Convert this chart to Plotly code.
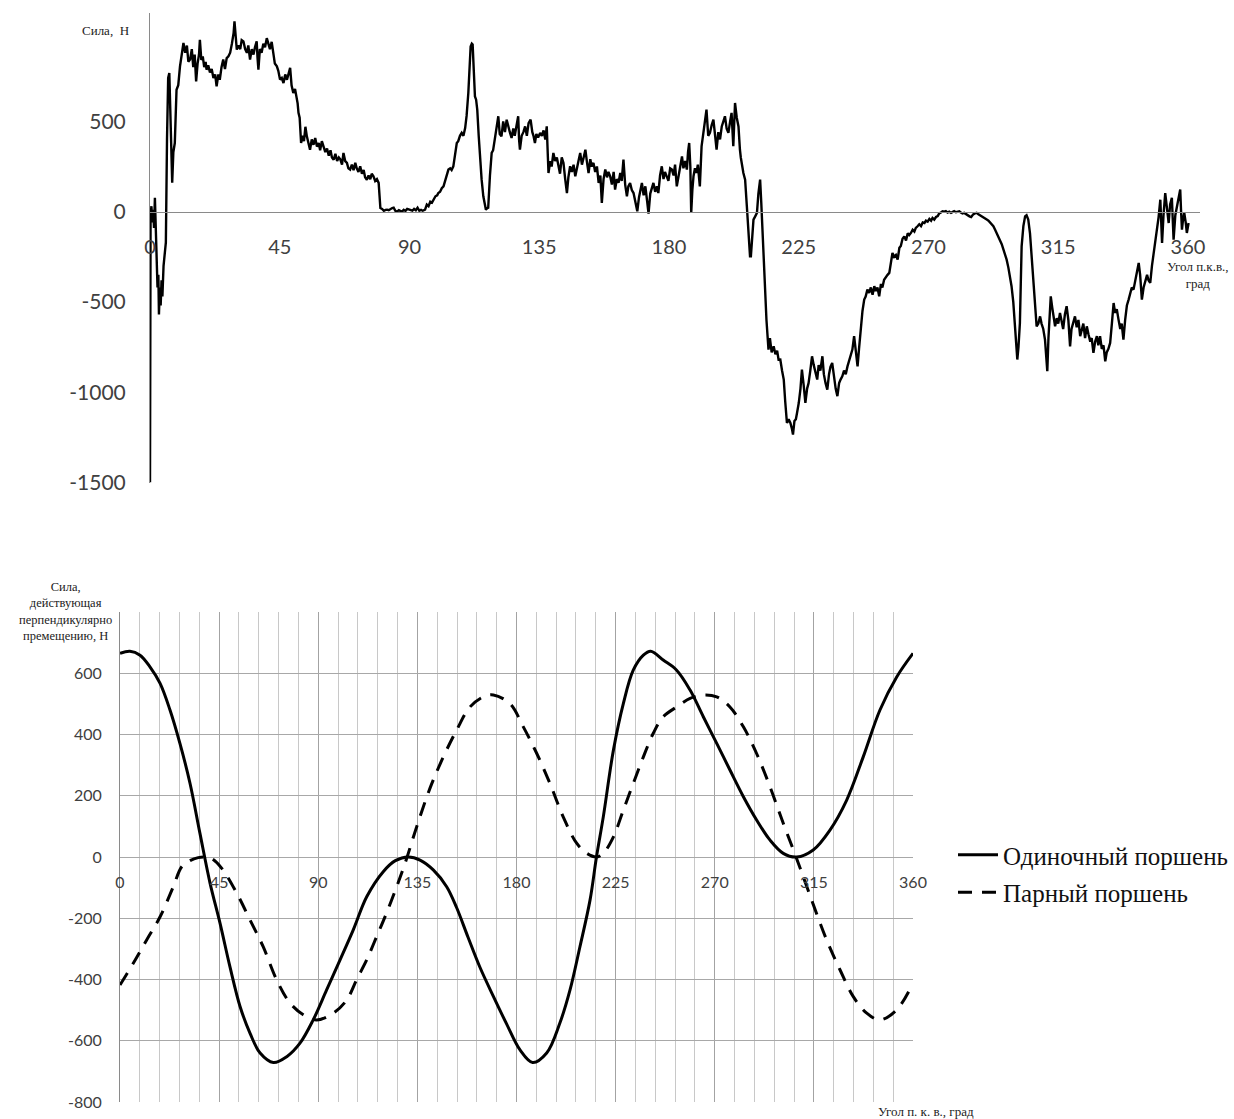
import plotly.graph_objects as go

# ---------------- data: top chart (measured force) ----------------
TOP_ANGLE = [
    0, 0.2, 0.5, 0.8, 1.1, 1.4, 1.7, 2.0, 2.3, 2.6, 2.9, 3.1, 3.4, 3.7, 4.0, 4.3, 4.7, 5.2, 5.5, 5.9,
    6.3, 6.7, 7.0, 7.4, 7.7, 8.1, 8.6, 9.2, 9.8, 10.4, 11.0, 11.6, 12.2, 12.8, 13.3, 13.9, 14.5, 15.0,
    15.5, 16.0, 16.5, 17.0, 17.3, 17.8, 18.3, 18.8, 19.3, 19.6, 20.2, 20.8, 21.4, 22.0, 22.6, 23.1,
    23.7, 24.2, 24.8, 25.4, 26.0, 26.6, 27.2, 27.8, 28.4, 29.0, 29.3, 29.7, 30.1, 30.7, 31.3, 31.8,
    32.4, 33.0, 33.6, 34.1, 34.7, 35.3, 35.9, 36.4, 37.0, 37.3, 37.6, 38.1, 38.7, 39.3, 39.9, 40.5,
    41.0, 41.6, 42.2, 42.8, 43.3, 44.0, 44.5, 45.1, 45.7, 46.3, 46.9, 47.5, 48.0, 48.6, 49.1, 49.7,
    50.3, 50.9, 51.2, 51.5, 51.9, 52.4, 52.9, 53.4, 53.9, 54.4, 55.0, 55.5, 56.1, 56.7, 57.3, 57.9,
    58.5, 59.0, 59.6, 60.2, 60.8, 61.4, 62.0, 62.6, 63.1, 63.7, 64.3, 64.9, 65.5, 66.0, 66.6, 67.1,
    67.7, 68.3, 68.8, 69.4, 70.0, 70.6, 71.2, 71.7, 72.3, 72.9, 73.5, 74.1, 74.6, 75.2, 75.8, 76.4,
    76.9, 77.5, 78.1, 78.7, 79.3, 79.6, 79.9, 80.5, 81.1, 81.7, 82.2, 82.8, 83.4, 84.0, 84.5, 85.1,
    85.7, 86.3, 86.8, 87.4, 88.0, 88.6, 89.2, 90.3, 91.0, 91.6, 92.2, 92.8, 93.4, 94.0, 94.6, 95.4,
    96.0, 96.6, 97.2, 97.8, 98.3, 99.0, 99.6, 100.0, 100.6, 101.2, 101.8, 102.4, 103.0, 103.5, 104.1,
    104.6, 105.2, 105.8, 106.4, 106.9, 107.5, 108.1, 108.7, 109.3, 109.8, 110.4, 110.8, 111.2, 111.6,
    111.9, 112.3, 112.7, 113.1, 113.5, 114.0, 114.5, 115.0, 115.6, 116.1, 116.5, 117.0, 117.3, 117.9,
    118.5, 119.0, 119.6, 120.2, 120.8, 121.3, 121.9, 122.5, 123.1, 123.7, 124.2, 124.8, 125.4, 126.0,
    126.5, 127.1, 127.7, 128.0, 128.3, 128.9, 129.5, 130.1, 130.7, 131.3, 132.0, 132.6, 133.0, 133.5,
    134.0, 134.6, 135.3, 135.9, 136.5, 137.1, 137.6, 138.0, 138.2, 138.8, 139.3, 139.9, 140.5, 141.1,
    141.7, 142.2, 142.8, 143.4, 144.0, 144.6, 145.1, 145.7, 146.3, 146.9, 147.5, 148.1, 148.6, 149.2,
    149.8, 150.4, 151.0, 151.5, 152.1, 152.7, 153.2, 153.8, 154.4, 155.0, 155.6, 156.2, 156.7, 157.3,
    157.9, 158.5, 159.0, 159.6, 160.2, 160.8, 161.3, 161.9, 162.5, 163.1, 163.6, 164.2, 164.8, 165.4,
    165.9, 166.5, 167.1, 167.7, 168.3, 169.0, 169.6, 170.1, 170.6, 171.2, 171.8, 172.4, 172.9, 173.5,
    174.0, 174.6, 175.2, 175.8, 176.3, 176.9, 177.5, 178.1, 178.6, 179.2, 179.8, 180.4, 181.0, 181.6,
    182.1, 182.7, 183.3, 183.9, 184.5, 185.0, 185.6, 186.2, 186.6, 187.0, 187.4, 187.7, 188.1, 188.5,
    189.0, 189.5, 190.0, 190.7, 191.3, 191.8, 192.4, 193.0, 193.6, 194.2, 194.8, 195.4, 196.0, 196.5,
    197.1, 197.7, 198.3, 198.9, 199.4, 200.0, 200.6, 201.2, 201.7, 202.3, 202.6, 202.9, 203.5, 204.1,
    204.6, 204.9, 205.8, 206.4, 207.0, 207.6, 208.1, 208.4, 208.9, 209.3, 209.9, 210.5, 211.0, 211.6,
    212.0, 212.5, 212.8, 213.3, 213.8, 214.5, 215.0, 215.6, 216.3, 216.9, 217.5, 218.0, 218.6, 219.2,
    219.8, 220.3, 220.9, 221.5, 222.1, 222.6, 223.0, 223.5, 224.0, 224.4, 225.0, 225.6, 226.1, 226.7,
    227.3, 227.9, 228.4, 229.0, 229.6, 230.2, 230.8, 231.4, 231.9, 232.5, 233.2, 233.7, 234.3, 234.9,
    235.5, 236.0, 236.6, 237.2, 237.8, 238.4, 239.0, 239.5, 240.1, 240.7, 241.3, 241.9, 242.5, 243.0,
    243.6, 244.2, 244.8, 245.4, 245.9, 246.5, 247.1, 247.7, 248.2, 248.8, 249.4, 250.0, 250.6, 251.2,
    251.7, 252.3, 252.9, 253.5, 254.0, 254.6, 255.2, 255.8, 256.4, 256.9, 257.5, 258.1, 258.7, 259.3,
    259.9, 260.4, 261.0, 261.6, 262.2, 262.8, 263.3, 263.9, 264.5, 265.1, 265.6, 266.2, 266.8, 267.4,
    268.0, 268.6, 269.1, 269.7, 270.3, 270.9, 271.4, 272.0, 272.6, 273.2, 273.7, 274.3, 274.9, 275.5,
    276.0, 276.6, 277.2, 277.8, 278.3, 278.9, 279.5, 280.1, 280.7, 281.2, 281.8, 282.4, 283.0, 283.5,
    284.2, 284.8, 285.5, 286.1, 286.7, 287.3, 287.9, 288.4, 289.0, 289.6, 290.2, 290.8, 291.3, 291.9,
    292.5, 293.1, 293.7, 294.3, 294.8, 295.4, 296.0, 296.6, 297.1, 297.7, 298.3, 298.8, 299.4, 300.0,
    300.4, 300.8, 301.2, 301.7, 302.0, 302.3, 302.9, 303.5, 304.0, 304.6, 305.2, 305.8, 306.4, 307.0,
    307.5, 308.1, 308.7, 309.2, 309.8, 310.4, 310.8, 311.2, 311.6, 312.0, 312.4, 312.9, 313.4, 313.9,
    314.5, 315.0, 315.6, 316.2, 316.7, 317.3, 317.9, 318.5, 319.1, 319.6, 320.2, 320.8, 321.4, 322.0,
    322.6, 323.1, 323.7, 324.3, 324.9, 325.5, 326.1, 326.6, 327.2, 327.8, 328.4, 328.9, 329.5, 330.1,
    330.7, 331.3, 331.8, 332.4, 333.0, 333.6, 334.2, 334.7, 335.3, 335.9, 336.5, 337.0, 337.6, 338.2,
    338.8, 339.4, 339.9, 340.5, 341.1, 341.7, 342.3, 342.9, 343.4, 344.0, 344.6, 345.2, 345.8, 346.3,
    346.9, 347.5, 348.1, 348.7, 349.2, 349.8, 350.4, 350.7, 351.0, 351.5, 352.1, 352.7, 353.3, 353.8,
    354.4, 354.7, 355.0, 355.6, 356.2, 356.8, 357.3, 357.6, 357.9, 358.3, 358.7, 359.2, 359.6, 360.2,
]
TOP_FORCE = [
    -1500, -20, 30, -60, 10, -90, 77, -150, -300, -420, -350, -570, -420, -520, -380, -470, -300, -190, -170, 400,
    740, 768, 560, 300, 160, 330, 380, 675, 700, 805, 860, 934, 880, 920, 830, 842, 900, 800,
    870, 721, 820, 870, 952, 840, 860, 800, 830, 786, 810, 770, 790, 740, 760, 694,
    760, 730, 800, 842, 790, 850, 860, 880, 930, 990, 1054, 960, 897, 920, 900, 950,
    943, 900, 880, 920, 842, 900, 870, 910, 943, 850, 786, 900, 880, 930, 910, 961,
    930, 900, 940, 879, 820, 805, 780, 731, 740, 712, 760, 730, 760, 796, 700, 657,
    680, 638, 600, 547, 520, 380, 420, 390, 470, 417, 380, 343, 400, 370, 408, 360,
    380, 340, 390, 362, 330, 350, 310, 340, 300, 288, 320, 280, 300, 290, 260, 325,
    280, 270, 240, 233, 260, 230, 270, 240, 220, 251, 210, 230, 190, 177, 200, 180,
    210, 196, 170, 180, 159, 90, 20, 15, 5, 10, 11, 8, 15, 20, 22, 5,
    0, 8, 4, 0, 10, 4, 15, 11, 5, 15, 8, 22, 5, 10, 5, 11,
    39, 30, 55, 50, 66, 85, 90, 103, 110, 130, 140, 170, 210, 233, 240,
    230, 251, 320, 380, 390, 420, 436, 420, 463, 530, 657, 820, 915, 930,
    925, 780, 638, 620, 565, 420, 288, 180, 85, 30, 11, 20, 22, 200,
    325, 340, 399, 470, 528, 430, 417, 500, 440, 509, 470, 440, 408, 460,
    420, 480, 528, 400, 343, 420, 440, 472, 420, 490, 509, 440, 420, 380,
    430, 410, 436, 420, 450, 400, 472, 300, 214, 280, 250, 325, 280, 300,
    251, 210, 300, 270, 180, 103, 190, 251, 220, 260, 196, 250, 280, 325,
    260, 300, 343, 280, 214, 290, 250, 270, 220, 250, 159, 200, 48, 180,
    233, 190, 220, 196, 150, 220, 122, 180, 160, 214, 170, 288, 150, 85,
    140, 159, 120, 103, 60, 2, 80, 120, 159, 90, 140, 60, -11, 100,
    130, 159, 110, 140, 103, 200, 251, 180, 220, 196, 170, 240, 233, 200,
    260, 140, 210, 250, 306, 240, 280, 233, 330, 380, 250, -7, 120, 196,
    240, 214, 260, 140, 362, 420, 480, 565, 420, 436, 480, 509, 420, 343,
    440, 400, 472, 500, 528, 460, 436, 500, 547, 362, 480, 602, 520, 472,
    343, 300, 214, 177, 30, -137, -247, -247, -150, -44, -26, -7, 100, 177,
    50, -155, -192, -469, -600, -764, -700, -780, -746, -790, -770, -820, -819, -880,
    -930, -1050, -1170, -1150, -1170, -1200, -1235, -1160, -1150, -1115, -1060, -980, -875, -960,
    -1059, -980, -950, -880, -801, -850, -900, -930, -850, -880, -801, -900, -950, -986,
    -900, -860, -838, -920, -980, -1022, -950, -930, -912, -880, -900, -857, -820, -790,
    -764, -690, -780, -857, -760, -653, -550, -487, -470, -432, -450, -420, -460, -413,
    -440, -420, -469, -400, -420, -377, -360, -350, -339, -290, -229, -250, -240, -266,
    -200, -190, -150, -137, -160, -120, -130, -118, -100, -110, -90, -81, -70, -80,
    -60, -63, -50, -55, -40, -50, -35, -44, -30, -25, -10, -5, 2, 0,
    3, -5, 0, -7, 0, 3, -3, 0, 2, -5, -10, -7, -15, -20,
    -26, -30, -15, -10, -7, -15, -20, -25, -30, -35, -44, -50, -60, -70,
    -81, -100, -120, -140, -155, -180, -210, -240, -266, -310, -360, -413, -500, -616,
    -720, -819, -750, -616, -400, -192, -80, -26, -20, -44, -120, -266, -420, -560,
    -635, -620, -580, -620, -650, -709, -800, -884, -700, -560, -469, -530, -600, -635,
    -590, -620, -561, -600, -650, -570, -524, -600, -746, -650, -620, -580, -640, -600,
    -690, -660, -620, -700, -635, -680, -720, -700, -782, -720, -690, -740, -690, -760,
    -740, -829, -780, -760, -727, -620, -506, -560, -540, -598, -650, -620, -709, -600,
    -520, -487, -460, -420, -432, -380, -340, -284, -350, -487, -420, -377, -350, -380,
    -395, -300, -229, -180, -100, -30, 66, -50, -173, -20, 103, 20, -63, 40,
    76, -40, -155, -20, 29, 60, 122, 0, -100, -40, -7, -60, -118, -63,
]

# ---------------- data: bottom chart (calculated forces) ----------------
SINGLE_ANGLE = [0, 4.5, 9.1, 13.6, 18.2, 22.7, 27.2, 31.8, 36.3, 40.9, 45.4, 49.9, 54.5, 59.0, 63.6,
                69.6, 75.7, 81.7, 87.7, 93.8, 99.9, 105.9, 112.0, 119.5, 125.0, 130.9, 136.2, 142.2,
                148.3, 152.8, 158.0, 163.4, 169.5, 175.5, 181.6, 187.3, 193.7, 199.7, 204.3, 208.8,
                213.4, 216.3, 219.4, 224.0, 228.5, 233.0, 237.6, 240.9, 246.6, 252.7, 258.8, 264.8,
                270.9, 276.9, 283.0, 289.0, 295.1, 301.1, 307.2, 314.7, 322.3, 329.9, 337.4, 345.0,
                352.6, 360.0]
SINGLE_FORCE = [665, 672, 659, 621, 567, 480, 371, 240, 77, -86, -216, -358, -488, -575, -640,
                -671, -652, -608, -532, -434, -336, -238, -130, -48, -12, 0, -10, -42,
                -97, -165, -262, -360, -455, -545, -630, -671, -640, -542, -434, -293,
                -140, 0, 131, 349, 501, 610, 659, 672, 643, 610, 545, 458,
                371, 284, 197, 121, 55, 12, 0, 23, 88, 186, 327, 480,
                588, 665]

PAIR_ANGLE = [0, 6.1, 12.1, 18.2, 24.2, 28.0, 31.8, 35.5, 38.6, 41.6, 46.2, 53.0, 59.0, 65.0,
              71.1, 77.2, 83.2, 89.3, 96.8, 102.9, 107.4, 112.0, 116.5, 121.0, 125.6, 129.4,
              134.7, 140.7, 146.8, 152.8, 158.9, 164.9, 169.5, 177.0, 183.1, 189.2, 195.2, 201.2,
              207.3, 211.9, 216.4, 219.4, 224.0, 228.5, 233.0, 237.6, 242.1, 246.6, 252.7, 258.8,
              264.8, 270.9, 276.9, 283.0, 289.0, 295.1, 301.1, 305.7, 308.7, 313.2, 320.8, 326.9,
              332.9, 339.0, 345.0, 352.6, 360.0]
PAIR_FORCE = [-418, -346, -271, -195, -97, -32, -12, -2, 0, -5, -37, -118, -205, -293,
              -401, -477, -515, -532, -510, -467, -401, -336, -260, -183, -97, -21,
              99, 224, 327, 414, 490, 523, 529, 501, 425, 338, 240, 131,
              45, 12, 0, 12, 66, 153, 240, 327, 404, 458, 490, 518,
              529, 523, 490, 425, 338, 229, 110, 23, -35, -125, -271, -369,
              -456, -510, -532, -499, -412]

TOP_XTICKS = [0, 45, 90, 135, 180, 225, 270, 315, 360]
TOP_YTICKS = [-1500, -1000, -500, 0, 500]
TOP_YTEXT = ["-1500", "-1000", "-500", "0", "500"]
BOT_XTICKS = [0, 45, 90, 135, 180, 225, 270, 315, 360]
BOT_YTICKS = [-800, -600, -400, -200, 0, 200, 400, 600, 800]
BOT_YTEXT = ["-800", "-600", "-400", "-200", "0", "200", "400", "600", ""]

W, H = 1234, 1119
def px(x):
    return x / W
def py(y):
    return 1 - y / H

TICK_FONT = "Lato, 'Open Sans', sans-serif"
SERIF = "'Liberation Serif', 'DejaVu Serif', serif"
TICK_COLOR = "#404040"

fig = go.Figure()

fig.add_trace(go.Scatter(
    x=TOP_ANGLE, y=TOP_FORCE, mode="lines", xaxis="x", yaxis="y",
    line=dict(color="black", width=2.4), showlegend=False, hoverinfo="skip"))

fig.add_trace(go.Scatter(
    x=SINGLE_ANGLE, y=SINGLE_FORCE, mode="lines", xaxis="x2", yaxis="y2",
    name="Одиночный поршень", legendgroup="a",
    line=dict(color="black", width=3, shape="spline", smoothing=1.0)))

fig.add_trace(go.Scatter(
    x=PAIR_ANGLE, y=PAIR_FORCE, mode="lines", xaxis="x2", yaxis="y2",
    name="Парный поршень", legendgroup="b",
    line=dict(color="black", width=3, dash="14px,10px", shape="spline", smoothing=1.0)))


def note(text, x, y, size):
    return dict(text=text, x=px(x), y=py(y), xref="paper", yref="paper",
                xanchor="center", yanchor="middle", align="center", showarrow=False,
                font=dict(family=SERIF, size=size, color="#222222"))


fig.update_layout(
    template="none",
    width=W, height=H,
    margin=dict(l=0, r=0, t=0, b=0, autoexpand=False),
    paper_bgcolor="white", plot_bgcolor="white",
    xaxis=dict(
        domain=[px(150), px(1200)], range=[0, 364.16], automargin=False,
        anchor="free", position=py(212),
        tickvals=TOP_XTICKS, ticks="outside", ticklen=17, tickcolor="rgba(0,0,0,0)",
        tickfont=dict(family=TICK_FONT, size=20, color=TICK_COLOR),
        showgrid=False, zeroline=False,
        showline=True, linecolor="#8a8a8a", linewidth=1),
    yaxis=dict(
        domain=[py(482.5), py(13)], range=[-1500, 1100], anchor="x", automargin=False,
        tickvals=TOP_YTICKS, ticktext=TOP_YTEXT,
        ticks="outside", ticklen=19, tickcolor="rgba(0,0,0,0)",
        tickfont=dict(family=TICK_FONT, size=21, color=TICK_COLOR),
        showgrid=False, zeroline=False,
        showline=True, linecolor="#8a8a8a", linewidth=1),
    xaxis2=dict(
        domain=[px(120), px(913)], range=[0, 360], automargin=False,
        anchor="free", position=py(857),
        tickvals=BOT_XTICKS, ticks="outside", ticklen=11, tickcolor="rgba(0,0,0,0)",
        tickfont=dict(family=TICK_FONT, size=16, color=TICK_COLOR),
        showgrid=True, gridcolor="#a3a3a3", gridwidth=1,
        minor=dict(dtick=9, tick0=0, showgrid=True, gridcolor="#c8c8c8", gridwidth=1),
        zeroline=False, showline=False),
    yaxis2=dict(
        domain=[py(1102), py(612)], range=[-800, 800], anchor="x2", automargin=False,
        tickvals=BOT_YTICKS, ticktext=BOT_YTEXT,
        ticks="outside", ticklen=14, tickcolor="rgba(0,0,0,0)",
        tickfont=dict(family=TICK_FONT, size=16, color=TICK_COLOR),
        showgrid=True, gridcolor="#a8a8a8", gridwidth=1,
        zeroline=False, showline=True, linecolor="#8a8a8a", linewidth=1),
    legend=dict(
        xref="container", yref="container",
        x=px(953), y=py(832), xanchor="left", yanchor="top",
        font=dict(family=SERIF, size=25, color="#111111"),
        traceorder="grouped", tracegroupgap=2,
        bgcolor="rgba(0,0,0,0)", itemwidth=40),
    annotations=[
        note("Сила,  Н", 105, 30, 13),
        note("Угол п.к.в.,<br>град", 1198, 275, 13),
        note("Сила,<br>действующая<br>перпендикулярно<br>премещению, Н", 65, 611, 12.5),
        note("Угол п. к. в., град", 926, 1111, 13),
    ],
)

fig.write_html("out.html",
               config={"displayModeBar": False},
               post_script="document.body.style.margin='0px';document.body.style.overflow='hidden';")
